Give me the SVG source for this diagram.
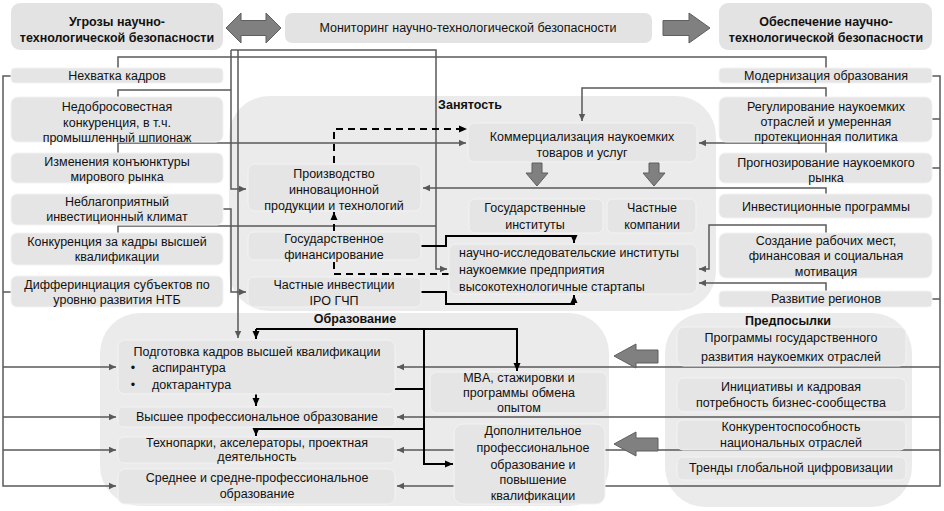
<svg xmlns="http://www.w3.org/2000/svg" width="944" height="511" viewBox="0 0 944 511">
<style>
text { font-family: "Liberation Sans", Arial, sans-serif; font-size: 12.5px; fill: #111; text-anchor: middle; dominant-baseline: central; }
.b { font-weight: bold; }
.l { text-anchor: start; }
.box { fill: #e5e5e5; stroke: #f3f3f3; stroke-width: 1; }
.tbox { fill: #e3e3e3; }
.region { fill: #ebebeb; }
.g { fill: none; stroke: #595959; stroke-width: 1.5; }
.k { fill: none; stroke: #000; stroke-width: 2; }
.d { fill: none; stroke: #000; stroke-width: 2; stroke-dasharray: 7 5; }
.big { fill: #808080; stroke: #5f5f5f; stroke-width: 1; }
</style>
<defs>
<marker id="ag" markerWidth="8" markerHeight="8" refX="7" refY="4" orient="auto" markerUnits="userSpaceOnUse"><path d="M0,0.8 L7,4 L0,7.2 z" fill="#595959"/></marker>
<marker id="ak" markerWidth="9" markerHeight="9" refX="8" refY="4.5" orient="auto" markerUnits="userSpaceOnUse"><path d="M0,1 L8,4.5 L0,8 z" fill="#000"/></marker>
</defs>

<g id="regions">
<g id="employment"><rect class="region" x="229" y="96" width="487" height="215" rx="40"/><text class="b" x="470" y="105">Занятость</text></g>
<g id="education"><rect class="region" x="100" y="313" width="509" height="193" rx="40"/><text class="b" x="355" y="319">Образование</text></g>
<g id="preconditions"><rect class="region" x="665" y="313" width="247" height="194" rx="40"/><text class="b" x="788" y="321">Предпосылки</text></g>
</g>

<g id="connectors">
<path class="g" d="M118,68 V57 H826 V68"/>
<path class="g" d="M118,97 V90 H231"/>
<path class="g" d="M231,50 V189 H246" marker-end="url(#ag)"/>
<path class="g" d="M231,50 H436 V269 H447" marker-end="url(#ag)"/>
<path class="g" d="M238,50 V338" marker-end="url(#ag)"/>
<path class="g" d="M118,153 V143 H466" marker-end="url(#ag)"/>
<path class="g" d="M223,209 H231 V292 H246" marker-end="url(#ag)"/>
<path class="g" d="M118,233 V226 H436"/>
<path class="g" d="M11,76 H3 V486 H116" marker-end="url(#ag)"/>
<path class="g" d="M11,292 H3"/>
<path class="g" d="M3,367 H116" marker-end="url(#ag)"/>
<path class="g" d="M3,417 H116" marker-end="url(#ag)"/>
<path class="g" d="M3,450 H116" marker-end="url(#ag)"/>
<path class="g" d="M932,76 H940 V486 H397" marker-end="url(#ag)"/>
<path class="g" d="M932,119 H940"/>
<path class="g" d="M932,168 H940"/>
<path class="g" d="M932,299 H940"/>
<path class="g" d="M940,367 H397" marker-end="url(#ag)"/>
<path class="g" d="M940,417 H397" marker-end="url(#ag)"/>
<path class="g" d="M940,450 H397" marker-end="url(#ag)"/>
<path class="g" d="M826,97 V88 H582 V121" marker-end="url(#ag)"/>
<path class="g" d="M826,153 V143 H699" marker-end="url(#ag)"/>
<path class="g" d="M826,194 V188 H423" marker-end="url(#ag)"/>
<path class="g" d="M826,233 V225 H709 V269 H699" marker-end="url(#ag)"/>
<path class="g" d="M826,291 V283 H699" marker-end="url(#ag)"/>
<path class="k" d="M421,246 H446 V236 H574 V243" marker-end="url(#ak)"/>
<path class="k" d="M421,292 H446 V304 H574 V295" marker-end="url(#ak)"/>
<path class="k" d="M424,329 V464 H453" marker-end="url(#ak)"/>
<path class="k" d="M256,329 H517 V371" marker-end="url(#ak)"/>
<path class="k" d="M256,329 V339" marker-end="url(#ak)"/>
<path class="k" d="M424,389 H256 V406" marker-end="url(#ak)"/>
<path class="k" d="M424,429 H256 V436" marker-end="url(#ak)"/>
<path class="d" d="M334,163 V129 H467" marker-end="url(#ak)"/>
<path class="d" d="M334,231 V212" marker-end="url(#ak)"/>
<path class="d" d="M334,262 V274 H449"/>
</g>

<g id="threats-title"><rect class="tbox" x="11" y="3" width="212" height="47" rx="9"/><text class="b" x="117" y="22">Угрозы научно-</text><text class="b" x="117" y="38">технологической безопасности</text></g>
<g id="monitoring"><rect class="tbox" x="285" y="13" width="367" height="30" rx="7"/><text x="468" y="28">Мониторинг научно-технологической безопасности</text></g>
<g id="security-title"><rect class="tbox" x="719" y="3" width="213" height="47" rx="9"/><text class="b" x="826" y="22">Обеспечение научно-</text><text class="b" x="826" y="38">технологической безопасности</text></g>

<g id="t1"><rect class="box" x="11" y="68" width="212" height="15" rx="4"/><text x="117" y="76">Нехватка кадров</text></g>
<g id="t2"><rect class="box" x="11" y="97" width="212" height="45" rx="7"/><text x="117" y="107">Недобросовестная</text><text x="117" y="123">конкуренция, в т.ч.</text><text x="117" y="138">промышленный шпионаж</text></g>
<g id="t3"><rect class="box" x="11" y="153" width="212" height="30" rx="6"/><text x="117" y="162">Изменения конъюнктуры</text><text x="117" y="177">мирового рынка</text></g>
<g id="t4"><rect class="box" x="11" y="194" width="212" height="31" rx="6"/><text x="117" y="202">Неблагоприятный</text><text x="117" y="217">инвестиционный климат</text></g>
<g id="t5"><rect class="box" x="11" y="233" width="212" height="32" rx="6"/><text x="117" y="242">Конкуренция за кадры высшей</text><text x="117" y="257">квалификации</text></g>
<g id="t6"><rect class="box" x="11" y="276" width="212" height="31" rx="6"/><text x="117" y="285">Дифферинциация субъектов по</text><text x="117" y="300">уровню развития НТБ</text></g>

<g id="s1"><rect class="box" x="719" y="68" width="213" height="15" rx="4"/><text x="826" y="76">Модернизация образования</text></g>
<g id="s2"><rect class="box" x="719" y="97" width="213" height="45" rx="7"/><text x="826" y="107">Регулирование наукоемких</text><text x="826" y="122">отраслей и умеренная</text><text x="826" y="137">протекционная политика</text></g>
<g id="s3"><rect class="box" x="719" y="153" width="213" height="30" rx="6"/><text x="826" y="163">Прогнозирование наукоемкого</text><text x="826" y="178">рынка</text></g>
<g id="s4"><rect class="box" x="719" y="194" width="213" height="24" rx="6"/><text x="826" y="207">Инвестиционные программы</text></g>
<g id="s5"><rect class="box" x="719" y="233" width="213" height="45" rx="7"/><text x="826" y="241">Создание рабочих мест,</text><text x="826" y="256">финансовая и социальная</text><text x="826" y="272">мотивация</text></g>
<g id="s6"><rect class="box" x="719" y="291" width="213" height="16" rx="4"/><text x="826" y="299">Развитие регионов</text></g>

<g id="e1"><rect class="box" x="468" y="123" width="229" height="39" rx="7"/><text x="582" y="137">Коммерциализация наукоемких</text><text x="582" y="153">товаров и услуг</text></g>
<g id="e2"><rect class="box" x="248" y="164" width="173" height="47" rx="7"/><text x="334" y="174">Производство</text><text x="334" y="190">инновационной</text><text x="334" y="206">продукции и технологий</text></g>
<g id="e3"><rect class="box" x="248" y="232" width="173" height="28" rx="6"/><text x="334" y="239">Государственное</text><text x="334" y="255">финансирование</text></g>
<g id="e4"><rect class="box" x="248" y="277" width="173" height="30" rx="6"/><text x="334" y="285">Частные инвестиции</text><text x="334" y="301">IPO ГЧП</text></g>
<g id="e5"><rect class="box" x="469" y="199" width="134" height="34" rx="6"/><text x="535" y="208">Государственные</text><text x="535" y="225">институты</text></g>
<g id="e6"><rect class="box" x="607" y="199" width="89" height="34" rx="6"/><text x="652" y="208">Частные</text><text x="652" y="225">компании</text></g>
<g id="e7"><rect class="box" x="449" y="244" width="248" height="50" rx="7"/><text class="l" x="459" y="253">научно-исследовательские институты</text><text class="l" x="459" y="270">наукоемкие предприятия</text><text class="l" x="459" y="287">высокотехнологичные стартапы</text></g>

<g id="ed1"><rect class="box" x="118" y="340" width="277" height="54" rx="7"/><text x="257" y="352">Подготовка кадров высшей квалификации</text><text x="133" y="368">•</text><text class="l" x="152" y="368">аспирантура</text><text x="133" y="385">•</text><text class="l" x="152" y="385">доктарантура</text></g>
<g id="ed2"><rect class="box" x="118" y="407" width="277" height="20" rx="5"/><text x="257" y="417">Высшее профессиональное образование</text></g>
<g id="ed3"><rect class="box" x="118" y="437" width="277" height="26" rx="6"/><text x="257" y="443">Технопарки, акселераторы, проектная</text><text x="257" y="457">деятельность</text></g>
<g id="ed4"><rect class="box" x="118" y="469" width="277" height="35" rx="7"/><text x="257" y="478">Среднее и средне-профессиональное</text><text x="257" y="494">образование</text></g>
<g id="ed5"><rect class="box" x="430" y="372" width="177" height="41" rx="7"/><text x="519" y="378">MBA, стажировки и</text><text x="519" y="393">программы обмена</text><text x="519" y="408">опытом</text></g>
<g id="ed6"><rect class="box" x="454" y="424" width="151" height="80" rx="9"/><text x="533" y="431">Дополнительное</text><text x="533" y="448">профессиональное</text><text x="533" y="465">образование и</text><text x="533" y="480">повышение</text><text x="533" y="496">квалификации</text></g>

<g id="p1"><rect class="box" x="677" y="327" width="229" height="39" rx="7"/><text x="791" y="338">Программы государственного</text><text x="791" y="357">развития наукоемких отраслей</text></g>
<g id="p2"><rect class="box" x="677" y="378" width="229" height="34" rx="7"/><text x="791" y="387">Инициативы и кадровая</text><text x="791" y="403">потребность бизнес-сообщества</text></g>
<g id="p3"><rect class="box" x="677" y="420" width="229" height="30" rx="6"/><text x="791" y="427">Конкурентоспособность</text><text x="791" y="443">национальных отраслей</text></g>
<g id="p4"><rect class="box" x="677" y="457" width="229" height="23" rx="6"/><text x="791" y="468">Тренды глобальной цифровизации</text></g>

<g id="big-arrows">
<polygon class="big" points="226,28 241,13 241,20.5 266,20.5 266,13 281,28 266,43 266,35.5 241,35.5 241,43"/>
<polygon class="big" points="663,20.5 689,20.5 689,13 710,28 689,43 689,35.5 663,35.5"/>
<polygon class="big" points="532,163 542,163 542,173 548,173 537,186 526,173 532,173"/>
<polygon class="big" points="649,163 659,163 659,173 665,173 654,186 643,173 649,173"/>
<polygon class="big" points="614,356 636,344 636,350 658,350 658,363 636,363 636,368"/>
<polygon class="big" points="614,444 636,432 636,438 658,438 658,451 636,451 636,456"/>
</g>
</svg>
